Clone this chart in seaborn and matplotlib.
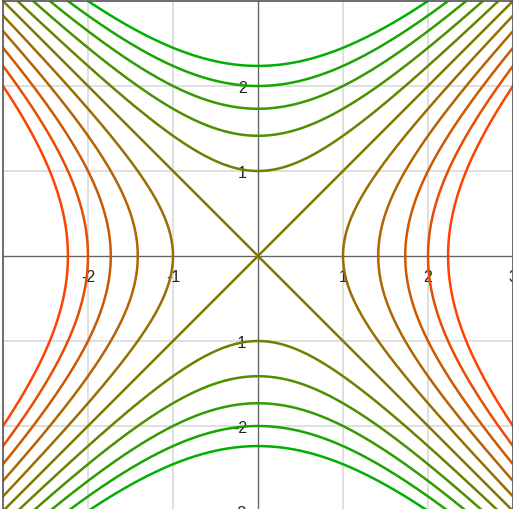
import numpy as np
import pandas as pd
import matplotlib
matplotlib.use("Agg")
import matplotlib.pyplot as plt
import matplotlib.colors as mcolors
import seaborn as sns

# Contour levels of f(x, y) = x^2 - y^2
levels = [-5, -4, -3, -2, -1, 0, 1, 2, 3, 4, 5]
x_ticks = [-2, -1, 1, 2, 3]
x_tick_labels = ["-2", "-1", "1", "2", "3"]
y_ticks = [2, 1, -1, -2, -3]
y_tick_labels = ["2", "1", "-1", "-2", "-3"]

sns.set_style("white")
plt.rcParams['font.family'] = ['Liberation Sans', 'DejaVu Sans']

# build the branches of the level curves x^2 - y^2 = c
t = np.linspace(-3.3, 3.3, 600)
rows = []
for c in levels:
    if c > 0:
        r = np.sqrt(c + t ** 2)
        rows.append(pd.DataFrame({"x": r, "y": t, "level": c, "branch": f"{c}a"}))
        rows.append(pd.DataFrame({"x": -r, "y": t, "level": c, "branch": f"{c}b"}))
    elif c < 0:
        r = np.sqrt(-c + t ** 2)
        rows.append(pd.DataFrame({"x": t, "y": r, "level": c, "branch": f"{c}a"}))
        rows.append(pd.DataFrame({"x": t, "y": -r, "level": c, "branch": f"{c}b"}))
    else:
        rows.append(pd.DataFrame({"x": t, "y": t, "level": c, "branch": "0a"}))
        rows.append(pd.DataFrame({"x": t, "y": -t, "level": c, "branch": "0b"}))
df = pd.concat(rows, ignore_index=True)

cmap = mcolors.LinearSegmentedColormap.from_list("gr", ["#00b000", "#ff4200"])
palette = {c: cmap((c - min(levels)) / (max(levels) - min(levels))) for c in levels}

fig = plt.figure(figsize=(5.13, 5.10), dpi=100)
ax = fig.add_axes([3 / 513, -2 / 510, 510 / 513, 510 / 510])

# grid
for v in range(-3, 4):
    if v != 0:
        ax.axvline(v, color="#dcdcdc", lw=1.3, zorder=0)
        ax.axhline(v, color="#dcdcdc", lw=1.3, zorder=0)
ax.axhline(0, color="#666666", lw=1.0, zorder=1)
ax.axvline(0, color="#666666", lw=1.0, zorder=1)

# tick labels (drawn beneath the curves)
for v, s in zip(x_ticks, x_tick_labels):
    ax.annotate(s, xy=(v, 0), xytext=(0, -15), textcoords="offset points",
                ha="center", va="center", fontsize=11.5, color="#222222", zorder=1.5)
for v, s in zip(y_ticks, y_tick_labels):
    ax.annotate(s, xy=(0, v), xytext=(-8, -1), textcoords="offset points",
                ha="right", va="center", fontsize=11.5, color="#222222", zorder=1.5)

sns.lineplot(data=df, x="x", y="y", hue="level", units="branch", estimator=None,
             sort=False, palette=palette, legend=False, lw=1.8, ax=ax, zorder=2)

ax.set_xlim(-3, 3)
ax.set_ylim(-3, 3)
ax.set_xticks([])
ax.set_yticks([])
ax.set_xlabel("")
ax.set_ylabel("")
for sp in ax.spines.values():
    sp.set_color("#555555")
    sp.set_linewidth(1.2)

fig.savefig("out.png", dpi=100)
